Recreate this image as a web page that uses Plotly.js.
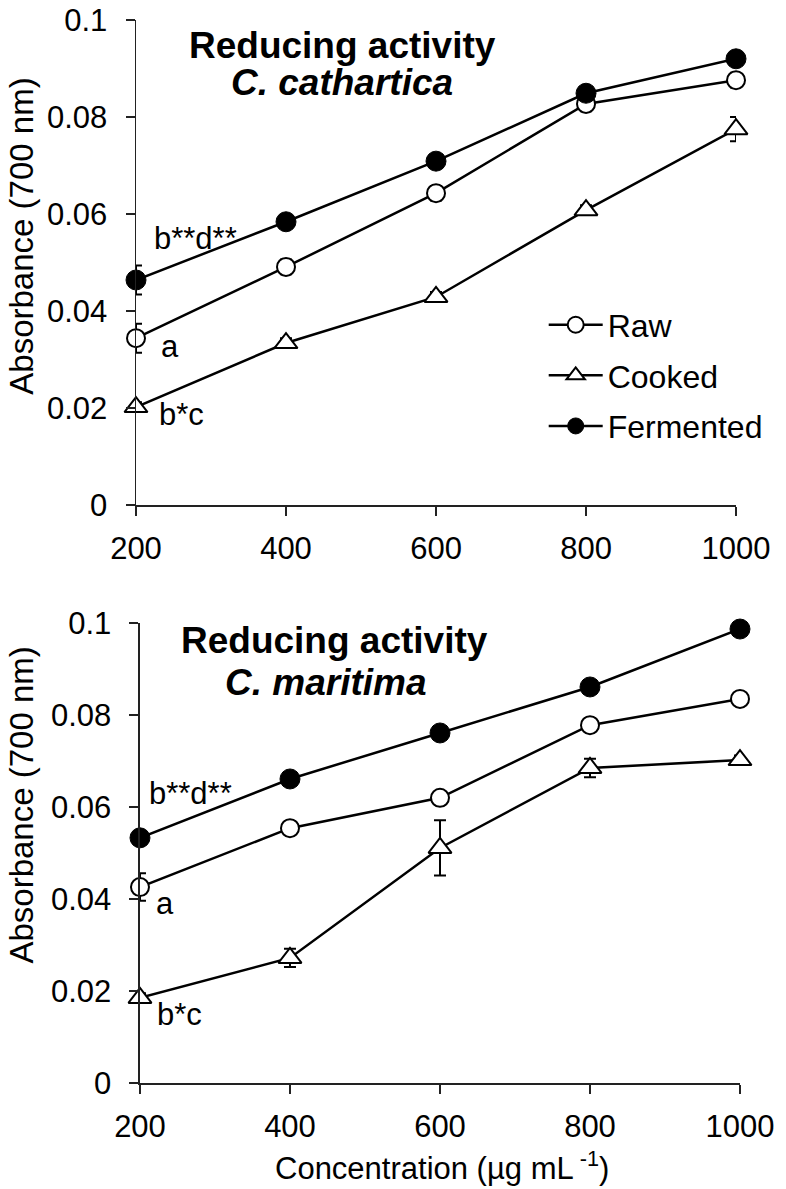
<!DOCTYPE html>
<html>
<head>
<meta charset="utf-8">
<script src="https://cdn.plot.ly/plotly-3.0.1.min.js"></script>
<style>
  html, body { margin: 0; padding: 0; background: #fff; }
  #chart { width: 786px; height: 1189px; }
</style>
</head>
<body>
<div id="chart"></div>
<script>
// concentrations (µg/mL)
const conc = [200, 400, 600, 800, 1000];

// C. cathartica
const cathRaw = [0.0344, 0.0491, 0.0643, 0.0827, 0.0876];
const cathRawErr = [0.003, 0.0015, 0.0015, 0.0015, 0.0015];
const cathCooked = [0.0202, 0.0334, 0.0429, 0.0608, 0.0775];
const cathCookedErr = [0.001, 0.001, 0.001, 0.001, 0.0025];
const cathFermented = [0.0464, 0.0584, 0.0709, 0.0849, 0.0920];
const cathFermentedErr = [0.003, 0.001, 0.001, 0.001, 0.001];

// C. maritima
const marRaw = [0.0426, 0.0554, 0.0620, 0.0778, 0.0835];
const marRawErr = [0.003, 0.0015, 0.0015, 0.0015, 0.001];
const marCooked = [0.0185, 0.0272, 0.0511, 0.0685, 0.0702];
const marCookedErr = [0.001, 0.002, 0.006, 0.002, 0.001];
const marFermented = [0.0533, 0.0661, 0.0761, 0.0861, 0.0987];
const marFermentedErr = [0.001, 0.001, 0.001, 0.0015, 0.001];

const FONT = '"Liberation Sans", Arial, Helvetica, sans-serif';

const markerStyles = {
    Raw: { symbol: 'circle', size: 18, color: '#fff', line: { color: '#000', width: 2 } },
    Cooked: { symbol: 'triangle-up', size: 20, color: '#fff', line: { color: '#000', width: 2 } },
    Fermented: { symbol: 'circle', size: 20, color: '#000', line: { color: '#000', width: 1 } }
};

function trace(name, y, err, xa, ya, showlegend) {
    return {
        type: 'scatter',
        mode: 'lines+markers',
        name: name,
        legendgroup: name,
        showlegend: showlegend,
        x: conc,
        y: y,
        xaxis: xa,
        yaxis: ya,
        cliponaxis: false,
        line: { color: '#000', width: 2.5 },
        marker: markerStyles[name],
        error_y: { type: 'data', array: err, visible: true, color: '#000', thickness: 2, width: 6 }
    };
}

const data = [
    trace('Raw', cathRaw, cathRawErr, 'x', 'y', true),
    trace('Cooked', cathCooked, cathCookedErr, 'x', 'y', true),
    trace('Fermented', cathFermented, cathFermentedErr, 'x', 'y', true),
    trace('Raw', marRaw, marRawErr, 'x2', 'y2', false),
    trace('Cooked', marCooked, marCookedErr, 'x2', 'y2', false),
    trace('Fermented', marFermented, marFermentedErr, 'x2', 'y2', false)
];

const xBase = {
    range: [200, 1000],
    tickvals: conc,
    ticks: 'outside',
    ticklen: 9,
    tickwidth: 1.5,
    tickcolor: '#222',
    showline: true,
    linecolor: '#222',
    linewidth: 1.5,
    showgrid: false,
    zeroline: false,
    ticklabelstandoff: 6,
    tickfont: { family: FONT, size: 31, color: '#000' }
};

const yBase = {
    range: [0, 0.1],
    dtick: 0.02,
    ticks: 'outside',
    ticklen: 9,
    tickwidth: 1.5,
    tickcolor: '#222',
    showline: true,
    linecolor: '#222',
    linewidth: 1.5,
    showgrid: false,
    zeroline: false,
    ticklabelstandoff: 12,
    tickfont: { family: FONT, size: 31, color: '#000' }
};

function label(text, xref, yref, x, y, size, angle) {
    return { text: text, xref: xref, yref: yref, x: x, y: y, showarrow: false,
        textangle: angle || 0,
        xanchor: 'center', yanchor: 'middle', font: { family: FONT, size: size, color: '#000' } };
}

const annotations = [
    label('<b>Reducing activity</b>', 'x', 'y', 475, 0.0948, 37),
    label('<b><i>C. cathartica</i></b>', 'x', 'y', 474, 0.0872, 37),
    label('b**d**', 'x', 'y', 279, 0.055, 31),
    label('a', 'x', 'y', 245, 0.0326, 31),
    label('b*c', 'x', 'y', 260, 0.0186, 31),
    label('Absorbance (700 nm)', 'paper', 'y', -0.189, 0.0555, 33, -90),
    label('<b>Reducing activity</b>', 'x2', 'y2', 459, 0.0963, 37),
    label('<b><i>C. maritima</i></b>', 'x2', 'y2', 448, 0.0870, 37),
    label('b**d**', 'x2', 'y2', 268, 0.063, 31),
    label('a', 'x2', 'y2', 233, 0.0391, 31),
    label('b*c', 'x2', 'y2', 253, 0.0148, 31),
    label('Absorbance (700 nm)', 'paper', 'y2', -0.189, 0.0605, 33, -90),
    label('Concentration (µg mL<sup> -1</sup>)', 'x2', 'paper', 603, -0.0781, 31)
];

const layout = {
    width: 786,
    height: 1189,
    paper_bgcolor: '#fff',
    plot_bgcolor: '#fff',
    margin: { l: 136, r: 46, t: 20, b: 106 },
    showlegend: true,
    legend: {
        x: 0.675, y: 0.739, xanchor: 'left', yanchor: 'top',
        bgcolor: 'rgba(0,0,0,0)',
        traceorder: 'grouped',
        tracegroupgap: 6,
        itemwidth: 54,
        font: { family: FONT, size: 32, color: '#000' }
    },
    xaxis: Object.assign({}, xBase, { domain: [0, 0.9934], anchor: 'y' }),
    yaxis: Object.assign({}, yBase, { domain: [0.5437, 1], anchor: 'x' }),
    xaxis2: Object.assign({}, xBase, { domain: [0.0066, 1], anchor: 'y2' }),
    yaxis2: Object.assign({}, yBase, { domain: [0, 0.4327], anchor: 'x2' }),
    annotations: annotations
};

Plotly.newPlot('chart', data, layout, { staticPlot: true });
</script>
</body>
</html>
